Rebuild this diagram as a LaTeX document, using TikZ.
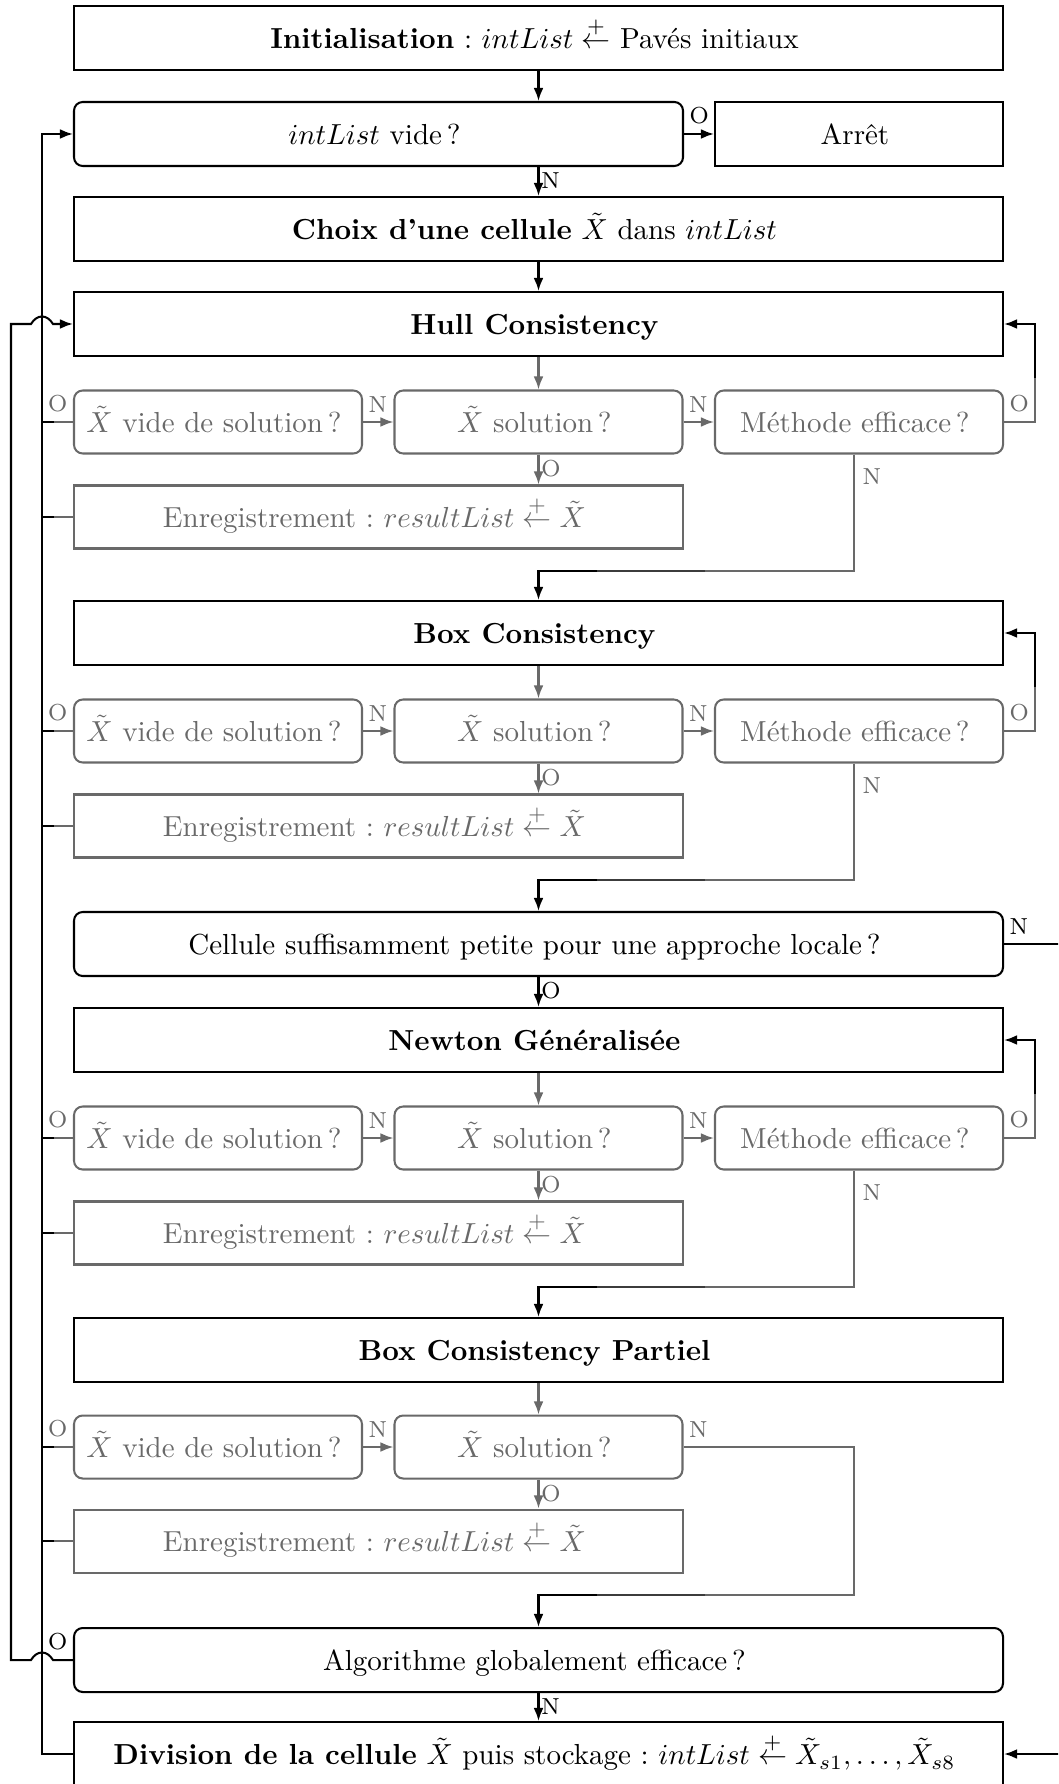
\documentclass[tikz,border=0pt]{standalone}
\usepackage{fontspec}
\usepackage{amsmath}
\usetikzlibrary{arrows.meta}
\definecolor{fgray}{RGB}{105,105,105}
\definecolor{dgray}{RGB}{60,60,60}
\def\pu{0.345pt}
\frenchspacing
\tikzset{
  box/.style={draw, line width=0.7pt, minimum height=64*\pu, inner sep=0pt, text=black,
    text height=8.4pt, text depth=1.0pt,
    execute at begin node={\kern-2.8pt}},
  nokern/.style={execute at begin node={}},
  wide/.style={minimum width=929*\pu},
  twothird/.style={minimum width=609*\pu},
  third/.style={minimum width=288*\pu},
  rbox/.style={rounded corners=3pt},
  gbox/.style={box, draw=fgray, text=fgray, minimum height=63*\pu},
  arr/.style={-{Latex[length=4.5pt,width=3.4pt]}, line width=0.7pt, draw=black},
  garr/.style={arr, draw=fgray, fill=fgray},
  bline/.style={line width=0.7pt, draw=black},
  gline/.style={line width=0.7pt, draw=fgray},
  dline/.style={line width=0.7pt, draw=dgray},
  lblh/.style={font=\footnotesize, inner xsep=1.6pt, inner ysep=3pt},
  lblv/.style={font=\footnotesize, inner xsep=0.6pt, inner ysep=1.5pt},
}
\begin{document}
\begin{tikzpicture}[x=0.345pt,y=-0.345pt]
\useasboundingbox (0,0) rectangle (1058,1784);
\clip (0,0) rectangle (1058,1784);

% main column
\node[box,wide] (init) at (538.5,38) {\textbf{Initialisation} : $intList \stackrel{+}{\leftarrow}$ Pavés initiaux};
\node[box,rbox,twothird,nokern] (listvide) at (378.5,134) {$intList$ vide\,?};
\node[box,third] (arret) at (859,134) {Arrêt};
\node[box,wide] (choix) at (538.5,229) {\textbf{Choix d’une cellule} $\tilde{X}$ dans $intList$};
\node[box,wide] (b1) at (538.5,324) {\textbf{Hull Consistency}};
\node[box,wide] (b2) at (538.5,633) {\textbf{Box Consistency}};
\node[box,rbox,wide] (cell) at (538.5,944) {Cellule suffisamment petite pour une approche locale\,?};
\node[box,wide] (b3) at (538.5,1040) {\textbf{Newton Généralisée}};
\node[box,wide] (b4) at (538.5,1350) {\textbf{Box Consistency Partiel}};
\node[box,rbox,wide] (algo) at (538.5,1660) {Algorithme globalement efficace\,?};
\node[box,wide] (div) at (538.5,1754) {\textbf{Division de la cellule} $\tilde{X}$ puis stockage : $intList \stackrel{+}{\leftarrow} \tilde{X}_{s1},\ldots,\tilde{X}_{s8}$};

\coordinate (lx) at (42,0);
\coordinate (sx) at (54,0);
\coordinate (ox) at (11,0);
\coordinate (rx) at (1100,0);

% top connectors
\draw[arr] (init.south) -- (init.south |- listvide.north);
\draw[arr] (listvide.east) -- node[pos=0,lblh,anchor=south west] (lo0) {O} (arret.west);
\draw[arr] (choix.north |- listvide.south) -- node[pos=0,lblv,anchor=north west] (ln0) {N} (choix.north);
\draw[arr] (choix.south) -- (b1.north);

% blocks with three tests
\foreach \n/\y/\nxt in {1/324/b2,2/633/cell,3/1040/b4}{
  \pgfmathsetmacro\yr{\y+98}
  \pgfmathsetmacro\ye{\y+193}
  \pgfmathsetmacro\yb{\y+247}
  \pgfmathsetmacro\yl{\y+54}
  \node[gbox,rbox,third] (v\n) at (218,\yr) {$\tilde{X}$ vide de solution\,?};
  \node[gbox,rbox,third] (s\n) at (538.5,\yr) {$\tilde{X}$ solution\,?};
  \node[gbox,rbox,third] (m\n) at (859,\yr) {Méthode efficace\,?};
  \node[gbox,twothird,nokern] (e\n) at (378.5,\ye) {Enregistrement : $resultList \stackrel{+}{\leftarrow} \tilde{X}$};
  \coordinate (lo\n) at (1035,\yl);
  \coordinate (ra\n) at (854,\yb);
  \coordinate (rb\n) at (705,\yb);
  \coordinate (rc\n) at (597,\yb);
  \draw[garr] (b\n.south) -- (s\n.north);
  \draw[garr] (v\n.east) -- node[pos=0,lblh,anchor=south west,text=fgray] (nv\n) {N} (s\n.west);
  \draw[garr] (s\n.east) -- node[pos=0,lblh,anchor=south west,text=fgray] (ns\n) {N} (m\n.west);
  \draw[garr] (s\n.south) -- node[pos=0,lblv,anchor=north west,text=fgray] (os\n) {O} (s\n.south |- e\n.north);
  % left stubs
  \draw[gline] (v\n.west) -- node[pos=0,lblh,anchor=south east,text=fgray] (ov\n) {O} (v\n.west -| sx);
  \draw[bline] (v\n.west -| sx) -- (v\n.west -| lx);
  \draw[gline] (e\n.west) -- (e\n.west -| sx);
  \draw[bline] (e\n.west -| sx) -- (e\n.west -| lx);
  % efficient method loop
  \draw[gline] (m\n.east) -- node[pos=0,lblh,anchor=south west,text=fgray] (om\n) {O} (m\n.east -| lo\n) -- (lo\n);
  \draw[arr] (lo\n) -- (lo\n |- b\n.east) -- (b\n.east);
  % not efficient: go on
  \draw[gline] (m\n.south -| ra\n) -- node[pos=0,lblv,anchor=north west,text=fgray,xshift=2pt,yshift=-3pt] (nm\n) {N} (ra\n) -- (rb\n);
  \draw[dline] (rb\n) -- (rc\n);
  \draw[arr] (rc\n) -- (rc\n -| \nxt.north) -- (\nxt.north);
}

% cell tests
\draw[arr] (cell.south) -- node[pos=0,lblv,anchor=north west] (oc) {O} (b3.north);
\draw[arr] (cell.east) -- node[pos=0,lblh,anchor=south west] (nc) {N} (cell.east -| rx) -- (div.east -| rx) -- (div.east);

% partial box consistency block
\node[gbox,rbox,third] (v4) at (218,1447) {$\tilde{X}$ vide de solution\,?};
\node[gbox,rbox,third] (s4) at (538.5,1447) {$\tilde{X}$ solution\,?};
\node[gbox,twothird,nokern] (e4) at (378.5,1541) {Enregistrement : $resultList \stackrel{+}{\leftarrow} \tilde{X}$};
\coordinate (ra4) at (854,1595);
\coordinate (rb4) at (705,1595);
\coordinate (rc4) at (597,1595);
\draw[garr] (b4.south) -- (s4.north);
\draw[garr] (v4.east) -- node[pos=0,lblh,anchor=south west,text=fgray] (nv4) {N} (s4.west);
\draw[garr] (s4.south) -- node[pos=0,lblv,anchor=north west,text=fgray] (os4) {O} (s4.south |- e4.north);
\draw[gline] (v4.west) -- node[pos=0,lblh,anchor=south east,text=fgray] (ov4) {O} (v4.west -| sx);
\draw[bline] (v4.west -| sx) -- (v4.west -| lx);
\draw[gline] (e4.west) -- (e4.west -| sx);
\draw[bline] (e4.west -| sx) -- (e4.west -| lx);
\draw[gline] (s4.east) -- node[pos=0,lblh,anchor=south west,text=fgray] (ns4) {N} (s4.east -| ra4) -- (ra4) -- (rb4);
\draw[dline] (rb4) -- (rc4);
\draw[arr] (rc4) -- (rc4 -| algo.north) -- (algo.north);

% global algorithm
\draw[arr] (algo.south) -- node[pos=0,lblv,anchor=north west] (na) {N} (div.north);

% return loop from division to intList vide
\draw[arr] (div.west) -- (div.west -| lx) -- (listvide.west -| lx) -- (listvide.west);

% outer loop from algo (O) to Hull Consistency, jumping over the return line
\coordinate (ja) at (53,1660);
\coordinate (jb) at (31,1660);
\coordinate (jc) at (31,324);
\coordinate (jd) at (53,324);
\draw[arr] (algo.west) -- node[pos=0,lblh,anchor=south east] (oa) {O} (ja)
  .. controls (47,1650) and (37,1650) .. (jb) -- (jb -| ox) -- (jc -| ox) -- (jc)
  .. controls (37,314) and (47,314) .. (jd) -- (b1.west);
\end{tikzpicture}
\end{document}
